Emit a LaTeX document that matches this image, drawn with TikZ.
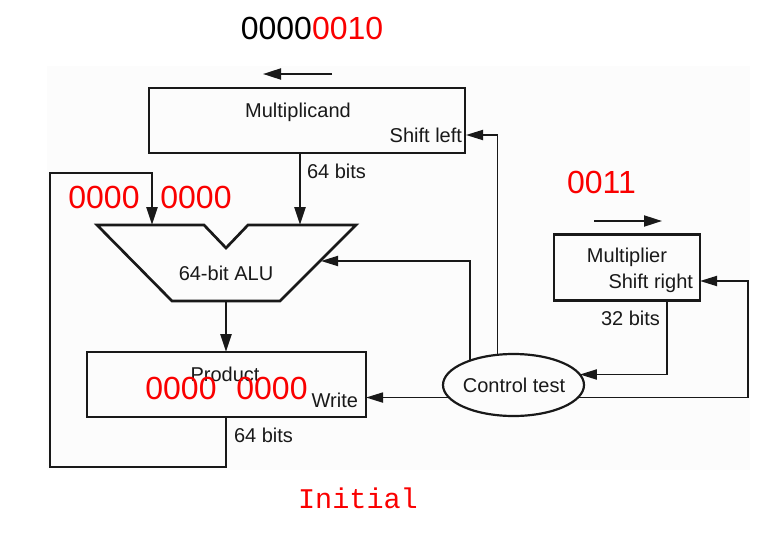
\documentclass[tikz,border=0pt]{standalone}
\usepackage{fontspec}
\setmainfont{Liberation Sans}
\newfontfamily\codefont{Liberation Mono}
\usetikzlibrary{arrows.meta,shapes.geometric}
\definecolor{bitred}{RGB}{250,0,0}
\definecolor{ink}{RGB}{25,25,25}
\pgfdeclarelayer{bgl}
\pgfdeclarelayer{wires}
\pgfsetlayers{bgl,wires,main}
\begin{document}
\begin{tikzpicture}[x=1pt,y=-1pt,
  every node/.style={inner sep=0pt,outer sep=0pt},
  regbox/.style={draw=ink,line width=2.7pt,rectangle},
  lbl/.style={font=\fontsize{20}{24}\selectfont,text=ink},
  bits/.style={font=\fontsize{32}{36}\selectfont,text=bitred},
  datawire/.style={draw=ink,line width=2.7pt,-{Triangle[length=18pt,width=11pt]}},
  ctlwire/.style={draw=ink,line width=1.8pt,-{Triangle[length=17pt,width=10pt]}},
  dirarrow/.style={draw=ink,line width=2pt,-{Triangle[length=18pt,width=11pt]}}
]
\useasboundingbox (0,0) rectangle (782,533);
\begin{pgfonlayer}{bgl}
  \fill[black!1] (47,66) rectangle (750,470);
\end{pgfonlayer}

% registers
\node[regbox,minimum width=316pt,minimum height=65pt] (mcand) at (307,120.5) {};
\node[regbox,minimum width=279pt,minimum height=65pt] (prod) at (226.5,384.5) {};
\node[regbox,minimum width=146pt,minimum height=66pt] (mult) at (627,267.5) {};
\node[draw=ink,line width=2.2pt,ellipse,minimum width=141pt,minimum height=62pt] (ctrl) at (513.5,385) {};

% ALU shape
\draw[ink,line width=2.7pt,line join=miter]
  (97,225) -- (204,225) -- (226,248) -- (248,225) -- (356,225)
  -- (280,301) -- (172,301) -- cycle;
\coordinate (aluL) at (152,225);
\coordinate (aluR) at (300,225);
\coordinate (aluB) at (226,301);
\coordinate (aluRt) at (321,261);

% texts
\node[lbl,anchor=base] (tmc) at (298,117) {Multiplicand};
\node[lbl,anchor=base east] (tsl) at (462,142) {Shift left};
\node[lbl,anchor=base west] (tb1) at (307,178) {64 bits};
\node[lbl,anchor=base] (talu) at (226,280) {64-bit ALU};
\node[lbl,anchor=base] (tpr) at (225,381) {Product};
\node[lbl,anchor=base east] (twr) at (358,407) {Write};
\node[lbl,anchor=base west] (tb2) at (234,442) {64 bits};
\node[lbl,anchor=base] (tmu) at (627,262) {Multiplier};
\node[lbl,anchor=base east] (tsr) at (693,288) {Shift right};
\node[lbl,anchor=base west] (tb3) at (601,325) {32 bits};
\node[lbl,anchor=base] (tct) at (514,392) {Control test};

\node[bits] (mcbits) at (312,28.5) {{\color{black}0000}0010};
\node[bits] (mubits) at (601.5,182.5) {0011};
\node[bits] (alb1) at (104,197.5) {0000};
\node[bits] (alb2) at (196,197.5) {0000};
\node[bits] (prb1) at (181,388) {0000};
\node[bits] (prb2) at (272,388) {0000};
\node[font=\codefont\fontsize{28.5}{32}\selectfont,text=bitred,anchor=base] (init) at (358,508) {Initial};

% direction arrows
\coordinate (sl1) at (332,74);
\coordinate (sl2) at (263,74);
\coordinate (sr1) at (594,221);
\coordinate (sr2) at (662,221);
\draw[dirarrow] (sl1) -- (sl2);
\draw[dirarrow] (sr1) -- (sr2);

% wires
\coordinate (fb1) at (50,467);
\coordinate (fb2) at (50,173);
\coordinate (mcIn) at (466,135);
\coordinate (cR) at (748,281);
\coordinate (m32) at (667,374);
\begin{pgfonlayer}{wires}
  \draw[datawire] (mcand.south -| aluR) -- (aluR);
  \draw[datawire] (aluB) -- (prod.north -| aluB);
  \draw[datawire] (prod.south -| aluB) |- (fb1) -- (fb2) -| (aluL);
  \draw[ctlwire] (ctrl.118) |- (mcIn);
  \draw[ctlwire] (ctrl.151.5) |- (aluRt);
  \draw[ctlwire] (ctrl.191) -- (prod.east |- ctrl.191);
  \draw[ctlwire] (mult.south -| m32) |- (ctrl.9);
  \draw[ctlwire] (ctrl.349) -| (cR) -- (mult.east |- cR);
\end{pgfonlayer}
\end{tikzpicture}
\end{document}
